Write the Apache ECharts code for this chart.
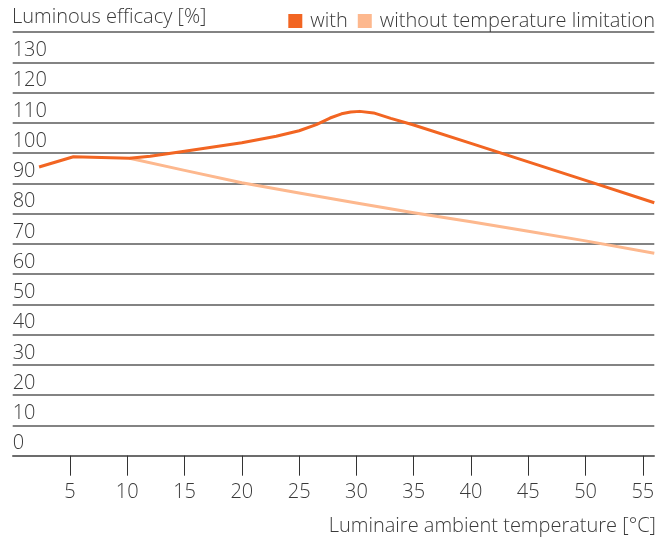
<!DOCTYPE html>
<html><head><meta charset="utf-8">
<script src="https://cdn.jsdelivr.net/npm/echarts@6/dist/echarts.min.js"></script>
<style>html,body{margin:0;padding:0;background:#fff}#c{width:670px;height:543px}</style>
</head><body><div id="c"></div>
<script>
const titleText = 'Luminous efficacy [%]';
const xAxisTitle = 'Luminaire ambient temperature [°C]';
const seriesNames = ['with', 'without temperature limitation'];
const xTicks = [5, 10, 15, 20, 25, 30, 35, 40, 45, 50, 55];
const withTemp = [[2.3, 95.4], [5.3, 98.8], [10.2, 98.3], [12, 99], [15, 100.6], [20, 103.4], [23, 105.6], [25, 107.4], [26.5, 109.4], [27.7, 111.6], [28.7, 113], [29.5, 113.6], [30.3, 113.8], [31.5, 113.3], [33, 111.5], [35, 109.3], [40, 103.2], [45, 97.1], [50, 91], [56, 83.6]];
const withoutTemp = [[10.2, 98.3], [15, 94.3], [20, 90.2], [25, 86.8], [30, 83.5], [35, 80.3], [40, 77.3], [45, 74.2], [50, 71], [56, 66.9]];

const FONT = '"Open Sans"';
const TXT = {fontFamily: FONT, fontWeight: 300, fontSize: 20, color: '#3a3a3a'};
const chart = echarts.init(document.getElementById('c'));
chart.setOption({
  animation: false,
  title: {text: titleText, left: 7, top: 2, textStyle: TXT},
  legend: {right: 10, top: 6, icon: 'rect', itemWidth: 14, itemHeight: 14, itemGap: 10,
    textStyle: Object.assign({padding: [0, 0, 0, 3]}, TXT), data: seriesNames},
  grid: {left: 12.7, right: 15.7, top: 32.1, bottom: 87.3, containLabel: false},
  xAxis: {type: 'value', min: 0, max: 56, interval: 5,
    axisLine: {show: true, lineStyle: {color: '#666', width: 1.5}},
    axisTick: {show: true, length: 20, customValues: xTicks, lineStyle: {color: '#333', width: 1}},
    axisLabel: Object.assign({customValues: xTicks, margin: 27}, TXT),
    splitLine: {show: false}},
  yAxis: {type: 'value', min: 0, max: 140, interval: 10,
    axisLine: {show: false}, axisTick: {show: false},
    axisLabel: Object.assign({inside: true, margin: 0, verticalAlign: 'bottom', padding: [0, 0, 2, 0], showMaxLabel: false}, TXT),
    splitLine: {show: true, lineStyle: {color: '#5a5a5a', width: 1.5}}},
  graphic: [{type: 'text', right: 14, top: 516, style: {text: xAxisTitle, fontFamily: FONT, fontWeight: 300, fontSize: 20, fill: '#3a3a3a'}}],
  series: [
    {name: seriesNames[1], type: 'line', data: withoutTemp, showSymbol: false, z: 2,
      lineStyle: {color: '#fdb88e', width: 3, join: 'round'}, itemStyle: {color: '#fdb88e'}},
    {name: seriesNames[0], type: 'line', data: withTemp, showSymbol: false, z: 3,
      lineStyle: {color: '#f26522', width: 3, join: 'round'}, itemStyle: {color: '#f26522'}}
  ]
});
</script></body></html>
